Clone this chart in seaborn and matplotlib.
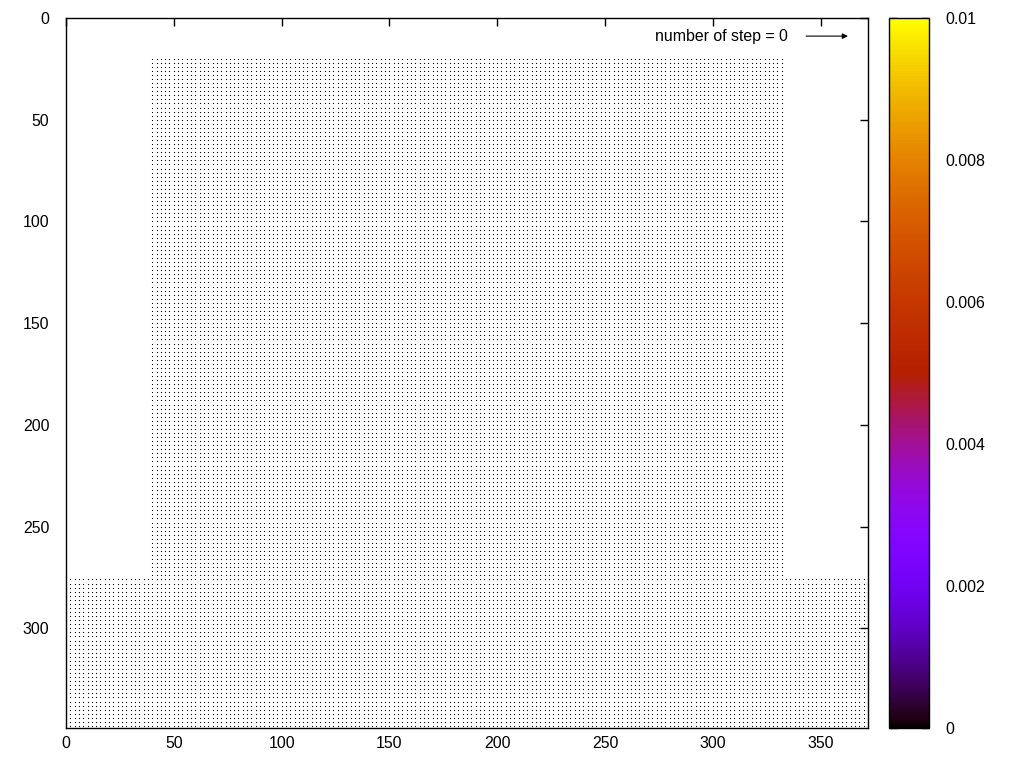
"""
Particle snapshot at step 0: water column + bottom layer, gnuplot-like look.
"""

import matplotlib
import numpy as np
import pandas as pd
import seaborn as sns

matplotlib.use("Agg")
import matplotlib.pyplot as plt
from matplotlib.cm import ScalarMappable
from matplotlib.colors import Normalize


# particle blocks: (x_start, x_end, y_start, y_end)
COLUMN_BLOCK = (40, 332, 20, 274)
BOTTOM_BLOCK = (2, 372, 276, 348)
SPACING = 2
PARTICLE_VALUE = 0.0

X_RANGE = (0, 372)
Y_RANGE = (0, 349)
X_TICKS = [0, 50, 100, 150, 200, 250, 300, 350]
Y_TICKS = [0, 50, 100, 150, 200, 250, 300]
CB_TICKS = [0, 0.002, 0.004, 0.006, 0.008, 0.01]
CB_LABELS = ["0", "0.002", "0.004", "0.006", "0.008", "0.01"]
CB_RANGE = (0, 0.01)
LABEL_TEXT = "number of step = 0"

FS = 11.4


def block_points(block):
    x0, x1, y0, y1 = block
    xs, ys = np.meshgrid(np.arange(x0, x1 + 1, SPACING), np.arange(y0, y1 + 1, SPACING))
    return xs.ravel(), ys.ravel()


def main():
    sns.set_style("white")
    plt.rcParams["font.family"] = ["Liberation Sans", "DejaVu Sans"]
    plt.rcParams["font.size"] = FS
    plt.rcParams["text.color"] = "black"
    plt.rcParams["xtick.color"] = "black"
    plt.rcParams["ytick.color"] = "black"

    parts = [block_points(COLUMN_BLOCK), block_points(BOTTOM_BLOCK)]
    df = pd.DataFrame({
        "x": np.concatenate([p[0] for p in parts]),
        "y": np.concatenate([p[1] for p in parts]),
    })
    df["value"] = PARTICLE_VALUE

    cmap = plt.get_cmap("gnuplot")
    norm = Normalize(*CB_RANGE)

    fig = plt.figure(figsize=(10.24, 7.68), dpi=100)
    ax = fig.add_axes([66 / 1024, 1 - 728 / 768, 802 / 1024, 710 / 768])
    cax = fig.add_axes([889 / 1024, 1 - 728 / 768, 40 / 1024, 710 / 768])

    sns.scatterplot(
        data=df, x="x", y="y",
        color=cmap(norm(PARTICLE_VALUE)),
        marker="s", s=0.6, linewidth=0, ax=ax, legend=False,
    )
    # let the 1px squares antialias instead of snapping to 2px blocks
    ax.collections[0].set_snap(False)

    ax.set_xlim(*X_RANGE)
    ax.set_ylim(Y_RANGE[1], Y_RANGE[0])
    ax.set_xticks(X_TICKS)
    ax.set_yticks(Y_TICKS)
    ax.set_xlabel("")
    ax.set_ylabel("")
    ax.tick_params(direction="in", length=6, width=1, top=True, right=True,
                   labelsize=FS, colors="black")
    ax.tick_params(axis="y", pad=12)
    ax.tick_params(axis="x", pad=6)
    for spine in ax.spines.values():
        spine.set_color("black")
        spine.set_linewidth(1)

    ax.text(335, 8.9, LABEL_TEXT, ha="right", va="center", fontsize=FS, color="black")
    ax.annotate("", xy=(364, 8.9), xytext=(342, 8.9),
                arrowprops=dict(arrowstyle="-|>", color="black", lw=0.8,
                                mutation_scale=8))

    sm = ScalarMappable(norm=norm, cmap=cmap)
    cb = fig.colorbar(sm, cax=cax)
    cb.set_ticks(CB_TICKS)
    cb.set_ticklabels(CB_LABELS)
    cb.outline.set_edgecolor("black")
    cb.outline.set_linewidth(1)
    cax.tick_params(direction="in", length=6, width=1, left=True, right=True,
                    labelsize=FS, pad=12, colors="black")

    fig.savefig("out.png", dpi=100)
    plt.close(fig)


if __name__ == "__main__":
    main()
